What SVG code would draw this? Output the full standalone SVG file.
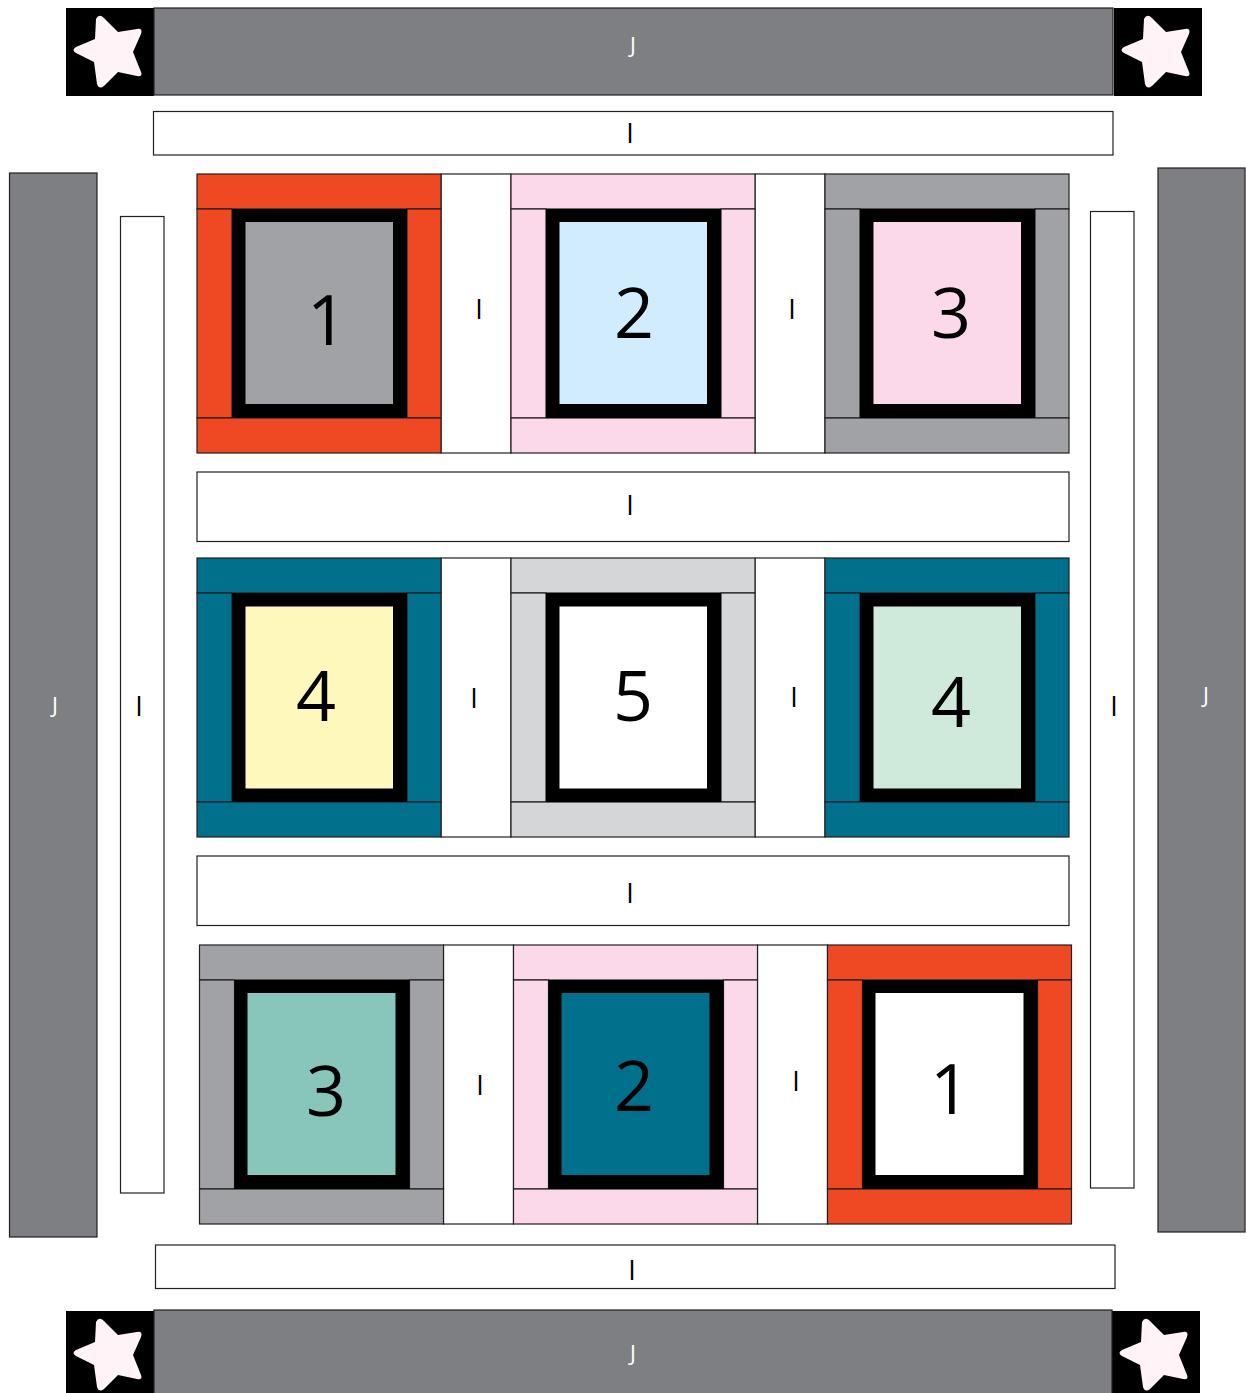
<svg xmlns="http://www.w3.org/2000/svg" width="1246" height="1393" viewBox="0 0 1246 1393">
<style>
rect{stroke:#231f20;stroke-width:1.2}
.j{fill:#7d7f82}
.w{fill:#fff}
.k{fill:#000;stroke:none}
.f{stroke:none}
.o{fill:#ef4923}.g{fill:#a1a2a5}.p{fill:#fbd9ea}.t{fill:#00708c}.l{fill:#d5d6d8}
.star{fill:#fff3f7;stroke:none}
text{font-family:"Open Sans","Noto Sans",sans-serif;text-anchor:middle;fill:#000}
.n{font-size:70px}
.s{font-size:27px}
.sw{font-size:22px;fill:#fff}
</style>
<defs>
<g id="corner"><rect class="k" x="0" y="0" width="88" height="88"/><path class="star" d="M30,11Q33,5 38,10L52,24L71,21Q77,20 75,26L67,44L75,64Q77,69 71,68L52,64L38,78Q33,82 31,76L28,54L10,45Q5,42 10,39L29,31Z"/></g>
<g id="frame"><rect x="0" y="0" width="244" height="35"/><rect x="0" y="35" width="35" height="209"/><rect x="210" y="35" width="34" height="209"/><rect x="0" y="244" width="244" height="35"/></g>
</defs>
<g id="connectors"/>
<g id="corner-tl"><use href="#corner" x="66" y="8"/></g>
<g id="corner-tr"><use href="#corner" x="1114" y="8"/></g>
<g id="corner-bl"><use href="#corner" x="66" y="1311"/></g>
<g id="corner-br"><use href="#corner" x="1112" y="1311"/></g>
<g id="j-top"><rect class="j" x="154" y="8" width="959" height="87"/><text class="sw" x="633" y="53">J</text></g>
<g id="j-bottom"><rect class="j" x="154" y="1310" width="958" height="90"/><text class="sw" x="633" y="1361">J</text></g>
<g id="j-left"><rect class="j" x="9.500" y="173" width="87.500" height="1064"/><text class="sw" x="55" y="713">J</text></g>
<g id="j-right"><rect class="j" x="1158" y="168" width="87" height="1064"/><text class="sw" x="1206" y="703">J</text></g>
<g id="i-top"><rect class="w" x="153.500" y="111.500" width="959.500" height="43.500"/><text class="s" x="630" y="142.500">I</text></g>
<g id="i-bottom"><rect class="w" x="155.500" y="1245" width="959.500" height="43.500"/><text class="s" x="632" y="1279.500">I</text></g>
<g id="i-left"><rect class="w" x="120.500" y="216.500" width="43.500" height="976.500"/><text class="s" x="139" y="715.500">I</text></g>
<g id="i-right"><rect class="w" x="1090.500" y="211.500" width="43.500" height="976.500"/><text class="s" x="1114" y="715.500">I</text></g>
<g id="i-row1"><rect class="w" x="197" y="472" width="872" height="69.500"/><text class="s" x="630" y="514.500">I</text></g>
<g id="i-row2"><rect class="w" x="197" y="856" width="872" height="69.500"/><text class="s" x="630" y="902.500">I</text></g>
<g id="i-v1"><rect class="w" x="441" y="174" width="70" height="279"/><text class="s" x="479" y="318.500">I</text></g>
<g id="i-v2"><rect class="w" x="755" y="174" width="70" height="279"/><text class="s" x="792" y="318.500">I</text></g>
<g id="i-v3"><rect class="w" x="441" y="558" width="70" height="279"/><text class="s" x="474" y="708">I</text></g>
<g id="i-v4"><rect class="w" x="755" y="558" width="70" height="279"/><text class="s" x="794" y="706.500">I</text></g>
<g id="i-v5"><rect class="w" x="443.500" y="945" width="70" height="279"/><text class="s" x="480" y="1094.500">I</text></g>
<g id="i-v6"><rect class="w" x="757.500" y="945" width="70" height="279"/><text class="s" x="796" y="1090.500">I</text></g>
<g id="block-1"><use href="#frame" x="197" y="174" class="o"/><rect class="k" x="232" y="209" width="175" height="209"/><rect class="g f" x="245.500" y="222" width="147.500" height="182"/><text class="n" x="327" y="345">1</text></g>
<g id="block-2"><use href="#frame" x="511" y="174" class="p"/><rect class="k" x="546" y="209" width="175" height="209"/><rect class="f" x="559.500" y="222" width="147.500" height="182" fill="#d0ecfd"/><text class="n" x="634" y="338">2</text></g>
<g id="block-3"><use href="#frame" x="825" y="174" class="g"/><rect class="k" x="860" y="209" width="175" height="209"/><rect class="f" x="873.500" y="222" width="147.500" height="182" fill="#fbd9ea"/><text class="n" x="951" y="338">3</text></g>
<g id="block-4a"><use href="#frame" x="197" y="558" class="t"/><rect class="k" x="232" y="593" width="175" height="209"/><rect class="f" x="245.500" y="606.500" width="147.500" height="182" fill="#fef8bd"/><text class="n" x="316" y="721">4</text></g>
<g id="block-5"><use href="#frame" x="511" y="558" class="l"/><rect class="k" x="546" y="593" width="175" height="209"/><rect class="w f" x="559.500" y="606.500" width="147.500" height="182"/><text class="n" x="633" y="721">5</text></g>
<g id="block-4b"><use href="#frame" x="825" y="558" class="t"/><rect class="k" x="860" y="593" width="175" height="209"/><rect class="f" x="873.500" y="606.500" width="147.500" height="182" fill="#cfe9db"/><text class="n" x="951" y="727">4</text></g>
<g id="block-3b"><use href="#frame" x="199.500" y="945" class="g"/><rect class="k" x="234.500" y="980" width="175" height="209"/><rect class="f" x="247.500" y="993" width="148" height="182" fill="#88c5bb"/><text class="n" x="326" y="1116">3</text></g>
<g id="block-2b"><use href="#frame" x="513.500" y="945" class="p"/><rect class="k" x="548.500" y="980" width="175" height="209"/><rect class="t f" x="561.500" y="993" width="148" height="182"/><text class="n" x="634" y="1111">2</text></g>
<g id="block-1b"><use href="#frame" x="827.500" y="945" class="o"/><rect class="k" x="862.500" y="980" width="175" height="209"/><rect class="w f" x="875.500" y="993" width="148" height="182"/><text class="n" x="950" y="1114">1</text></g>
</svg>
